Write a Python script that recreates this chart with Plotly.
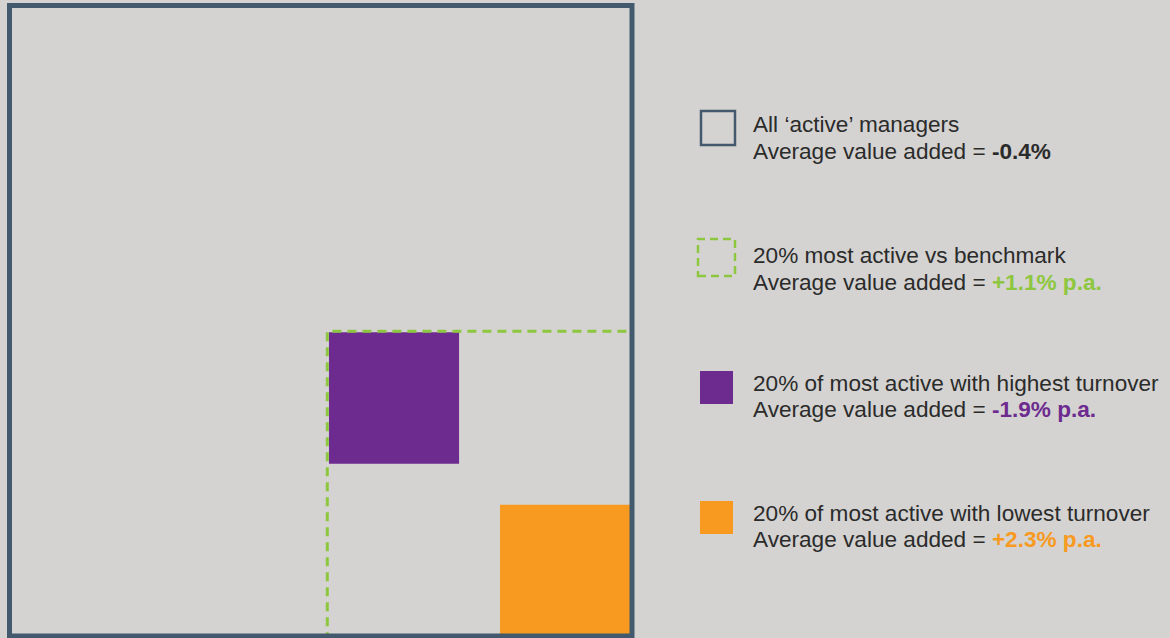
import plotly.graph_objects as go

# Group definitions: label, value added, colour, side of square (% of universe side)
groups = ["All \u2018active\u2019 managers",
          "20% most active vs benchmark",
          "20% of most active with highest turnover",
          "20% of most active with lowest turnover"]
value_added = ["-0.4%", "+1.1% p.a.", "-1.9% p.a.", "+2.3% p.a."]
side = [100, 48.95, 20.9, 21.2]

BG = "#d4d3d1"
TEXT = "#2b2b2b"
BORDER = "#435a6e"
GREEN = "#8dc63f"
PURPLE = "#6e2b8f"
ORANGE = "#f79a1f"
value_colors = [TEXT, GREEN, PURPLE, ORANGE]

W, H = 1170, 638
# pixel frame of the universe square (stroke centre lines)
px_l, px_r, px_t, px_b = 9.5, 632.0, 5.5, 636.0
sx = (px_r - px_l) / 100.0
sy = (px_b - px_t) / 100.0
aspect = sx / sy  # keeps nested squares square on screen
x_range = [-px_l / sx, (W - px_l) / sx]
y_range = [(px_b - H) / sy, px_b / sy]

fig = go.Figure()
shapes = []

s0 = side[0]
# Most active subset: anchored at the bottom-right of the universe
s1 = side[1]
g_x0, g_y1 = s0 - s1, s1 * aspect
# Highest turnover: tucked into the top-left of the most-active square
s2 = side[2]
p_x0 = g_x0 + 0.27
p_y1 = g_y1 - 0.16
# Lowest turnover: bottom-right corner
s3 = side[3]

shapes.append(dict(type="rect", xref="x", yref="y", x0=p_x0, x1=p_x0 + s2,
                   y0=p_y1 - s2 * aspect - 0.2, y1=p_y1, fillcolor=PURPLE,
                   line=dict(width=0), layer="above"))
shapes.append(dict(type="rect", xref="x", yref="y", x0=s0 - s3, x1=s0,
                   y0=0, y1=s3 * aspect - 0.1, fillcolor=ORANGE, line=dict(width=0),
                   layer="above"))
shapes.append(dict(type="rect", xref="x", yref="y", x0=g_x0, x1=s0,
                   y0=0, y1=g_y1, fillcolor="rgba(0,0,0,0)",
                   line=dict(color=GREEN, width=3, dash="9px,6px"), layer="above"))
shapes.append(dict(type="rect", xref="x", yref="y", x0=0, x1=s0, y0=0, y1=s0,
                   fillcolor="rgba(0,0,0,0)", line=dict(color=BORDER, width=5),
                   layer="above"))

# Legend keys (pixel positions in paper space)
def px(x):
    return x / W

def py(y):
    return 1 - y / H

keys = [
    dict(x0=701, x1=735, y0=111, y1=145, fill="rgba(0,0,0,0)", line=dict(color=BORDER, width=2.5)),
    dict(x0=698, x1=735, y0=239, y1=276, fill="rgba(0,0,0,0)", line=dict(color=GREEN, width=2.5, dash="8px,5px")),
    dict(x0=700, x1=733, y0=371, y1=404, fill=PURPLE, line=dict(width=0)),
    dict(x0=700, x1=733, y0=501, y1=534, fill=ORANGE, line=dict(width=0)),
]
for k in keys:
    shapes.append(dict(type="rect", xref="paper", yref="paper",
                       x0=px(k["x0"]), x1=px(k["x1"]), y0=py(k["y1"]), y1=py(k["y0"]),
                       fillcolor=k["fill"], line=k["line"]))

# Legend text lines (baselines in pixels)
baselines = [(133, 160), (264, 291), (392, 418), (522, 548)]
FS = 22.6
annotations = []
for i, (b1, b2) in enumerate(baselines):
    for b, txt in [
        (b1, groups[i]),
        (b2, "Average value added = <b><span style='color:%s'>%s</span></b>" % (value_colors[i], value_added[i])),
    ]:
        annotations.append(dict(xref="paper", yref="paper", x=px(751), y=py(b - 0.36 * FS),
                                xanchor="left", yanchor="middle", text=txt, showarrow=False,
                                align="left", font=dict(size=FS, color=TEXT,
                                                        family="Liberation Sans, Arial, sans-serif")))

fig.update_layout(
    width=W, height=H,
    margin=dict(l=0, r=0, t=0, b=0),
    paper_bgcolor=BG, plot_bgcolor=BG,
    xaxis=dict(range=x_range, visible=False, fixedrange=True),
    yaxis=dict(range=y_range, visible=False, fixedrange=True),
    shapes=shapes, annotations=annotations, showlegend=False,
)

fig.write_html("out.html", config={"displayModeBar": False})
